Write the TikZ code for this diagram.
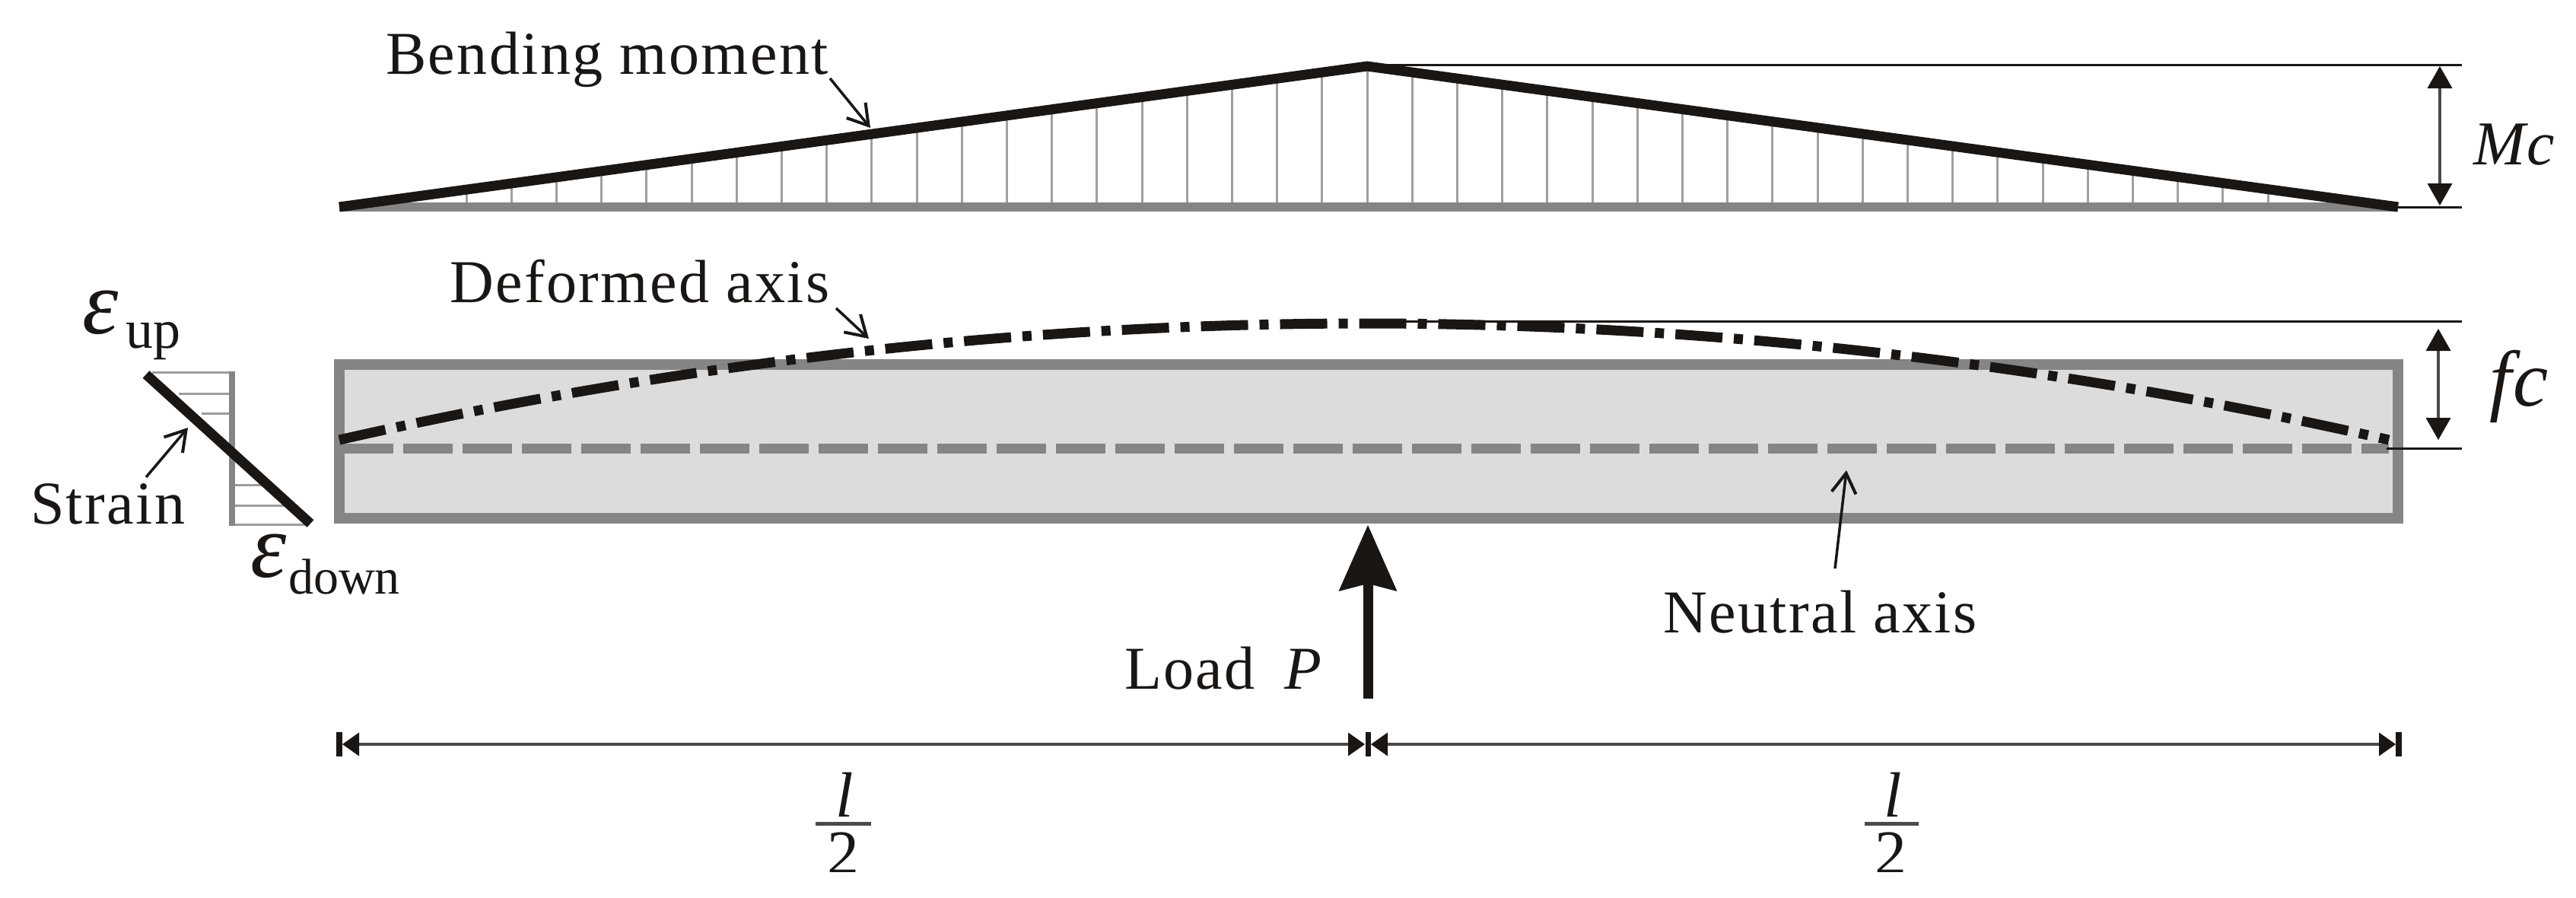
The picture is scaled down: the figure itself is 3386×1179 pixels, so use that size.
\documentclass[tikz,border=0pt]{standalone}
\usepackage{fontspec}
\setmainfont[LetterSpace=3]{Liberation Serif}
\newfontfamily\plainserif{Liberation Serif}
\usetikzlibrary{arrows.meta}
\definecolor{ink}{HTML}{1A1614}
\definecolor{frameg}{HTML}{858585}
\definecolor{beamg}{HTML}{DCDCDC}
\definecolor{hatchg}{HTML}{A0A0A0}
\definecolor{dimg}{HTML}{4A4A4A}
\tikzset{
  lbl/.style={inner sep=0pt,outer sep=0pt,anchor=base west,text=ink,font=\fontsize{80}{96}\selectfont},
  bignum/.style={inner sep=0pt,outer sep=0pt,anchor=base,text=ink,font=\fontsize{84}{96}\selectfont\plainserif},
  leader/.style={draw=ink,line width=3.5pt,-{Straight Barb[length=26pt,width=32pt,line width=4pt]}},
  thin rule/.style={draw=ink,line width=3pt},
  span/.style={draw=dimg,line width=4pt},
  sizearrow/.style={draw=dimg,line width=3.5pt,{Triangle[length=29pt,width=33pt,fill=ink,line width=0pt]}-{Triangle[length=29pt,width=33pt,fill=ink,line width=0pt]}},
  spanarrow/.style={span,{Triangle[length=22pt,width=31pt,fill=ink,line width=0pt]}-{Triangle[length=22pt,width=31pt,fill=ink,line width=0pt]}},
  spantick/.style={draw=ink,line width=8pt},
  hatch/.style={draw=hatchg,line width=3pt},
  strainhatch/.style={draw=frameg!80,line width=3pt},
  heavy/.style={draw=ink,line width=13pt,line join=miter},
  fracbar/.style={draw=dimg,line width=5pt}
}
\begin{document}
\begin{tikzpicture}[x=1pt,y=-1pt]
\useasboundingbox (0,0) rectangle (3386,1179);
\fill[white] (0,0) rectangle (3386,1179);

% coordinates
\coordinate (mL) at (446,272);
\coordinate (mA) at (1797,87);
\coordinate (mR) at (3152,272);

% bending moment diagram
\foreach \k in {-20,...,20}{
  \pgfmathsetmacro{\hx}{1797+\k*59.2}
  \pgfmathsetmacro{\hy}{87+abs(\k)*8.1}
  \draw[hatch] (\hx,272) -- (\hx,\hy);
}
\draw[draw=frameg,line width=12pt] (mL) -- (mR);
\coordinate (mEnd) at (3236,272);
\coordinate (mTop) at (3236,85);
\coordinate (mPeak) at (1797,85);
\draw[thin rule] (mPeak) -- (mTop);
\draw[thin rule] (mR) -- (mEnd);
\draw[heavy] (mL) -- (mA) -- (mR);

% beam
\node[draw=frameg,fill=beamg,line width=14pt,minimum width=2706pt,minimum height=202pt,inner sep=0pt,outer sep=0pt,anchor=north west] (beam) at (446,479) {};
\coordinate (nL) at (452,589);
\coordinate (nR) at (3140,589);
\draw[draw=frameg,line width=13pt,dash pattern=on 65pt off 13pt] (nL) -- (nR);

% deformed axis
\coordinate (dL) at (446,578);
\coordinate (dR) at (3140,578);
\coordinate (dTopA) at (1797,422);
\coordinate (dTopB) at (3236,422);
\coordinate (dBotA) at (3137,589);
\coordinate (dBotB) at (3236,589);
\draw[thin rule] (dTopA) -- (dTopB);
\draw[thin rule] (dBotA) -- (dBotB);
\draw[draw=ink,line width=13pt,dash pattern=on 62pt off 15pt on 12pt off 15pt]
  (dL) .. controls (1344,374) and (2242,374) .. (dR);

% size arrows
\coordinate (mcT) at (3207,87);
\coordinate (mcB) at (3207,270);
\draw[sizearrow] (mcT) -- (mcB);
\coordinate (fcT) at (3205,432);
\coordinate (fcB) at (3205,578);
\draw[sizearrow] (fcT) -- (fcB);
\node[lbl,font=\fontsize{82}{96}\selectfont\itshape] (mc) at (3251,216) {Mc};
\node[lbl,font=\fontsize{104}{110}\selectfont\itshape] (fc) at (3272,533) {fc};

% labels with leaders
\node[lbl] (bend) at (507,97) {Bending moment};
\coordinate (bendS) at (1091,103);
\coordinate (bendE) at (1144,168);
\draw[leader] (bendS) -- (bendE);
\node[lbl] (defax) at (591,397) {Deformed axis};
\coordinate (defS) at (1099,405);
\coordinate (defE) at (1142,445);
\draw[leader] (defS) -- (defE);
\node[lbl] (neut) at (2186,831) {Neutral axis};
\coordinate (neutS) at (2412,747);
\coordinate (neutE) at (2427,618);
\draw[leader] (neutS) -- (neutE);

% strain
\coordinate (sV1) at (305,488);
\coordinate (sV2) at (305,691);
\foreach \yy/\xa/\xb in {489/200/305,517/235/305,543/265/305,637/305/345,664/305/375,689/305/405}{
  \draw[strainhatch] (\xa,\yy) -- (\xb,\yy);
}
\draw[draw=frameg,line width=8pt] (sV1) -- (sV2);
\coordinate (s1) at (192,492);
\coordinate (s2) at (408,688);
\draw[heavy] (s1) -- (s2);
\node[lbl] (strain) at (40,688) {Strain};
\coordinate (strS) at (192,627);
\coordinate (strE) at (247,562);
\draw[leader] (strS) -- (strE);
\node[lbl,font=\fontsize{120}{130}\selectfont\plainserif\itshape] (eu) at (108,438) {ε};
\node[lbl,font=\fontsize{72}{80}\selectfont\plainserif] (up) at (165,457) {up};
\node[lbl,font=\fontsize{120}{130}\selectfont\plainserif\itshape] (ed) at (329,758) {ε};
\node[lbl,font=\fontsize{66}{80}\selectfont\plainserif] (down) at (379,780) {down};

% load
\coordinate (pB) at (1798,918);
\coordinate (pT) at (1798,690);
\draw[draw=ink,line width=13pt,-{Stealth[length=87pt,width=77pt,inset=10pt,line width=0pt,fill=ink]}] (pB) -- (pT);
\node[lbl] (load) at (1478,905) {Load};
\node[lbl,font=\fontsize{80}{96}\selectfont\itshape] (pp) at (1688,905) {P};

% span dimension
\coordinate (tL1) at (446,962);
\coordinate (tL2) at (446,994);
\coordinate (tM1) at (1798,962);
\coordinate (tM2) at (1798,994);
\coordinate (tR1) at (3153,962);
\coordinate (tR2) at (3153,994);
\draw[spantick] (tL1) -- (tL2);
\draw[spantick,line width=7pt] (tM1) -- (tM2);
\draw[spantick] (tR1) -- (tR2);
\coordinate (aL) at (450,978);
\coordinate (aM1) at (1794,978);
\coordinate (aM2) at (1802,978);
\coordinate (aR) at (3149,978);
\draw[spanarrow] (aL) -- (aM1);
\draw[spanarrow] (aM2) -- (aR);

% fractions
\begin{scope}
\clip (0,0) rectangle (3386,1145);
\node[bignum,font=\fontsize{84}{96}\selectfont\plainserif\itshape] (l1) at (1110,1073) {l};
\coordinate (b1a) at (1072,1082);
\coordinate (b1b) at (1145,1082);
\draw[fracbar] (b1a) -- (b1b);
\node[bignum] (two1) at (1108,1149) {2};
\node[bignum,font=\fontsize{84}{96}\selectfont\plainserif\itshape] (l2) at (2488,1073) {l};
\coordinate (b2a) at (2451,1082);
\coordinate (b2b) at (2522,1082);
\draw[fracbar] (b2a) -- (b2b);
\node[bignum] (two2) at (2485,1149) {2};
\end{scope}
\end{tikzpicture}
\end{document}
